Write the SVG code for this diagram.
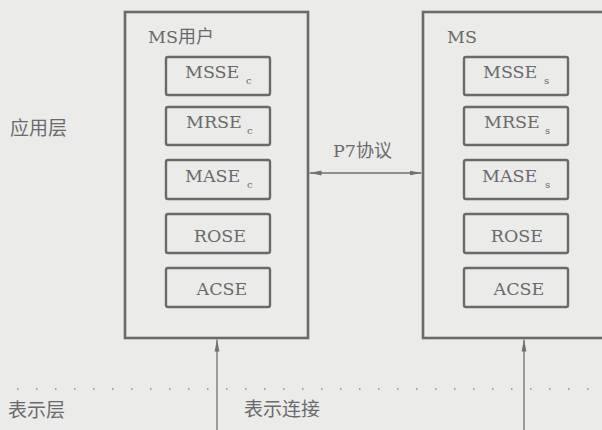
<svg xmlns="http://www.w3.org/2000/svg" width="602" height="430" viewBox="0 0 602 430">
<defs>
<style>
.bg{fill:#ebebea}
.outer{fill:none;stroke:#6a6a6a;stroke-width:2.6}
.inner{fill:none;stroke:#6a6a6a;stroke-width:2.4}
.conn{fill:none;stroke:#707070;stroke-width:1.3}
.dots{fill:none;stroke:#8a8a8a;stroke-width:1.6;stroke-dasharray:1.5 17.5}
.t{fill:#6a6a6a;font-family:"DejaVu Serif","Liberation Serif","Noto Sans CJK SC",serif;font-size:17.5px}
.c{fill:#6a6a6a;font-family:"Noto Sans CJK SC","Noto Sans CJK JP",sans-serif;font-size:18px}
.cl{fill:#6a6a6a;font-family:"Noto Sans CJK SC","Noto Sans CJK JP",sans-serif;font-size:19px}
.sub{font-size:10px}
</style>
<marker id="ah" viewBox="0 0 12 6" refX="12" refY="3" markerWidth="12" markerHeight="6" markerUnits="userSpaceOnUse" orient="auto-start-reverse">
<path d="M0,0.6 L12,3 L0,5.4 Z" fill="#707070"/>
</marker>
</defs>
<rect class="bg" x="0" y="0" width="602" height="430"/>
<g id="layer-labels">
<text class="cl" x="10" y="135">应用层</text>
<text class="cl" x="8" y="417">表示层</text>
</g>
<g id="dotted-boundary">
<line class="dots" x1="17" y1="389" x2="602" y2="389"/>
</g>
<g id="ms-user">
<rect class="outer" x="125" y="12" width="183" height="326"/>
<text class="t" x="148" y="43">MS<tspan class="c">用户</tspan></text>
</g>
<g id="msse-c"><rect class="inner" x="166" y="57" width="104" height="38" rx="2"/><text class="t" x="185" y="78">MSSE<tspan class="sub" x="246" y="84">c</tspan></text></g>
<g id="mrse-c"><rect class="inner" x="166" y="107" width="104" height="38" rx="2"/><text class="t" x="186" y="128">MRSE<tspan class="sub" x="247" y="134">c</tspan></text></g>
<g id="mase-c"><rect class="inner" x="166" y="160" width="104" height="39" rx="2"/><text class="t" x="185" y="182">MASE<tspan class="sub" x="247" y="188">c</tspan></text></g>
<g id="rose-c"><rect class="inner" x="166" y="214" width="104" height="39" rx="2"/><text class="t" x="220" y="242" text-anchor="middle">ROSE</text></g>
<g id="acse-c"><rect class="inner" x="166" y="268" width="104" height="39" rx="2"/><text class="t" x="222" y="295" text-anchor="middle">ACSE</text></g>
<g id="ms">
<rect class="outer" x="423" y="12" width="190" height="326"/>
<text class="t" x="447" y="43">MS</text>
</g>
<g id="msse-s"><rect class="inner" x="464" y="57" width="104" height="38" rx="2"/><text class="t" x="483" y="78">MSSE<tspan class="sub" x="544" y="84">s</tspan></text></g>
<g id="mrse-s"><rect class="inner" x="464" y="107" width="104" height="38" rx="2"/><text class="t" x="484" y="128">MRSE<tspan class="sub" x="545" y="134">s</tspan></text></g>
<g id="mase-s"><rect class="inner" x="464" y="160" width="104" height="39" rx="2"/><text class="t" x="482" y="182">MASE<tspan class="sub" x="545" y="188">s</tspan></text></g>
<g id="rose-s"><rect class="inner" x="464" y="214" width="104" height="39" rx="2"/><text class="t" x="517" y="242" text-anchor="middle">ROSE</text></g>
<g id="acse-s"><rect class="inner" x="464" y="268" width="104" height="39" rx="2"/><text class="t" x="519" y="295" text-anchor="middle">ACSE</text></g>
<g id="connectors">
<line class="conn" x1="309.5" y1="173" x2="421.5" y2="173" marker-start="url(#ah)" marker-end="url(#ah)"/>
<text class="t" x="333" y="157">P7<tspan class="c">协议</tspan></text>
<line class="conn" x1="217" y1="432" x2="217" y2="339.5" marker-end="url(#ah)"/>
<line class="conn" x1="524" y1="432" x2="524" y2="339.5" marker-end="url(#ah)"/>
<text class="cl" x="244" y="416">表示连接</text>
</g>
</svg>
